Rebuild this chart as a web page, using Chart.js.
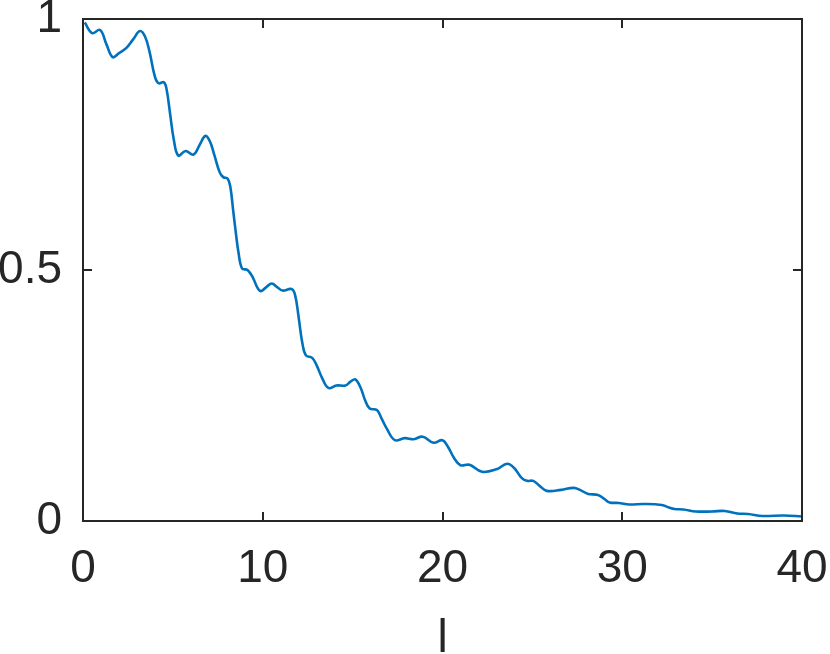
<!DOCTYPE html>
<html>
<head>
<meta charset="utf-8">
<script src="https://cdn.jsdelivr.net/npm/chart.js@4"></script>
<style>
  html, body { margin: 0; padding: 0; background: #ffffff; }
  #wrap { width: 830px; height: 654px; }
</style>
</head>
<body>
<div id="wrap"><canvas id="c" width="830" height="654"></canvas></div>
<script>
// ---- data ----
const xValues = [0.1,0.5,0.95,1.3,1.65,2.0,2.4,2.8,3.17,3.45,3.7,4.0,4.2,4.5,4.65,4.85,5.05,5.3,5.7,6.15,6.5,6.8,7.05,7.3,7.6,7.8,8.05,8.2,8.35,8.5,8.65,8.85,9.15,9.45,9.7,9.9,10.2,10.5,10.8,11.1,11.6,11.8,12.0,12.2,12.4,12.75,13.0,13.3,13.65,14.1,14.6,14.9,15.15,15.45,15.7,15.95,16.35,16.6,16.9,17.35,17.9,18.4,18.9,19.5,20.0,20.3,20.65,21.0,21.5,22.2,23.0,23.6,24.0,24.4,24.7,25.05,25.4,25.8,26.6,27.3,27.7,28.1,28.65,29.0,29.3,29.8,30.4,31.2,32.2,32.6,32.9,33.4,34.1,35.0,35.7,36.4,37.0,37.8,39.0,40.0];
const yValues = [0.993,0.972,0.978,0.95,0.924,0.932,0.942,0.96,0.976,0.965,0.935,0.885,0.872,0.874,0.86,0.81,0.76,0.728,0.737,0.73,0.75,0.767,0.757,0.73,0.695,0.685,0.682,0.665,0.62,0.575,0.535,0.503,0.5,0.485,0.465,0.458,0.466,0.473,0.466,0.459,0.462,0.45,0.405,0.355,0.33,0.325,0.31,0.285,0.265,0.27,0.27,0.278,0.282,0.265,0.24,0.224,0.221,0.205,0.184,0.161,0.165,0.163,0.168,0.156,0.161,0.148,0.125,0.111,0.112,0.098,0.103,0.114,0.105,0.086,0.08,0.08,0.07,0.06,0.062,0.066,0.061,0.054,0.052,0.044,0.037,0.036,0.033,0.034,0.032,0.027,0.024,0.023,0.019,0.019,0.02,0.015,0.014,0.01,0.011,0.009];
const xTicks = [0, 10, 20, 30, 40];
const yTicks = [0, 0.5, 1];
const xTitle = 'l';

const points = xValues.map((x, i) => ({ x: x, y: yValues[i] }));
const FONT = '"Liberation Sans", Arial, Helvetica, sans-serif';
const AXIS_COLOR = '#262626';

const boxPlugin = {
  id: 'matlabBox',
  afterDatasetsDraw(chart) {
    const { ctx, chartArea: a, scales } = chart;
    const tl = 9;
    ctx.save();
    ctx.strokeStyle = AXIS_COLOR;
    ctx.lineWidth = 2;
    ctx.beginPath();
    xTicks.forEach(v => {
      const px = Math.round(scales.x.getPixelForValue(v));
      ctx.moveTo(px, a.bottom); ctx.lineTo(px, a.bottom - tl);
      ctx.moveTo(px, a.top); ctx.lineTo(px, a.top + tl);
    });
    yTicks.forEach(v => {
      const py = Math.round(scales.y.getPixelForValue(v));
      ctx.moveTo(a.left, py); ctx.lineTo(a.left + tl, py);
      ctx.moveTo(a.right, py); ctx.lineTo(a.right - tl, py);
    });
    ctx.stroke();
    ctx.strokeRect(a.left, a.top, a.right - a.left, a.bottom - a.top);
    ctx.restore();
  }
};

function zeroPad(s) {
  s.paddingLeft = 0; s.paddingRight = 0; s.paddingTop = 0; s.paddingBottom = 0;
}

new Chart(document.getElementById('c'), {
  type: 'line',
  data: {
    datasets: [{
      data: points,
      borderColor: '#0072BD',
      borderWidth: 2.6,
      pointRadius: 0,
      tension: 0.4,
      fill: false
    }]
  },
  options: {
    responsive: false,
    animation: false,
    layout: { padding: { top: 19, right: 28, left: 0, bottom: 0 } },
    plugins: { legend: { display: false }, tooltip: { enabled: false } },
    scales: {
      x: {
        type: 'linear',
        min: 0, max: 40,
        afterBuildTicks: s => { s.ticks = xTicks.map(v => ({ value: v })); },
        afterFit: s => { s.height = 133; zeroPad(s); },
        grid: { display: true, drawOnChartArea: false, drawTicks: false },
        border: { display: false },
        ticks: {
          color: AXIS_COLOR, padding: 21, maxRotation: 0, autoSkip: false,
          font: { family: FONT, size: 46 },
          callback: v => String(v)
        },
        title: {
          display: true, text: xTitle, color: AXIS_COLOR,
          font: { family: FONT, size: 46, lineHeight: 0.65 },
          padding: { top: 0, bottom: 0 }
        }
      },
      y: {
        type: 'linear',
        min: 0, max: 1,
        afterBuildTicks: s => { s.ticks = yTicks.map(v => ({ value: v })); },
        afterFit: s => { s.width = 83; zeroPad(s); },
        grid: { display: true, drawOnChartArea: false, drawTicks: false },
        border: { display: false },
        ticks: {
          color: AXIS_COLOR, padding: 21, autoSkip: false,
          font: { family: FONT, size: 46 },
          callback: v => String(v)
        }
      }
    }
  },
  plugins: [boxPlugin]
});
</script>
</body>
</html>
